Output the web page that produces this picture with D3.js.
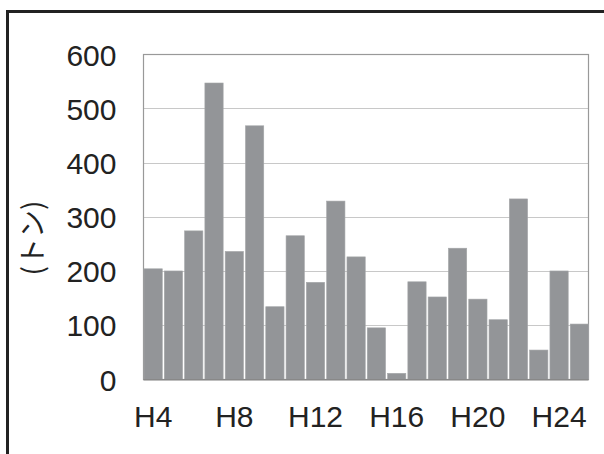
<!DOCTYPE html>
<html>
<head>
<meta charset="utf-8">
<script src="https://cdn.jsdelivr.net/npm/d3@7/dist/d3.min.js"></script>
<style>
  html, body { margin: 0; padding: 0; background: #fff; }
  svg { display: block; }
</style>
</head>
<body>
<script>
const categories = ["H4","H5","H6","H7","H8","H9","H10","H11","H12","H13","H14","H15","H16","H17","H18","H19","H20","H21","H22","H23","H24","H25"];
const values = [204, 200, 274, 547, 236, 468, 134, 265, 179, 329, 226, 95, 11, 180, 152, 242, 148, 110, 333, 54, 200, 102];
const xTickLabels = ["H4","H8","H12","H16","H20","H24"];
const yTicks = [0, 100, 200, 300, 400, 500, 600];
const yAxisTitle = "(トン)";

const W = 604, H = 454;
const svg = d3.select("body").append("svg").attr("width", W).attr("height", H);
const font = "'Liberation Sans', Arial, sans-serif";

// outer frame (only top and left visible)
svg.append("rect")
  .attr("x", 7.5).attr("y", 11.5)
  .attr("width", W + 20).attr("height", H + 20)
  .attr("fill", "none").attr("stroke", "#222").attr("stroke-width", 3);

const pLeft = 144, pRight = 588.5, pTop = 54.3, pBottom = 379.3;

const x = d3.scaleBand().domain(categories).range([pLeft, pRight]).paddingInner(0.1).paddingOuter(0);
const y = d3.scaleLinear().domain([0, 600]).range([pBottom, pTop]);

// gridlines
svg.append("g").selectAll("line").data(yTicks.filter(d => d > 0 && d < 600)).join("line")
  .attr("x1", pLeft).attr("x2", pRight)
  .attr("y1", d => Math.round(y(d)) + 0.5).attr("y2", d => Math.round(y(d)) + 0.5)
  .attr("stroke", "#c8c8c8").attr("stroke-width", 1.2);

// plot frame
svg.append("rect")
  .attr("x", pLeft - 0.5).attr("y", Math.round(pTop) + 0.5)
  .attr("width", pRight - pLeft + 0.5).attr("height", pBottom - pTop)
  .attr("fill", "none").attr("stroke", "#999").attr("stroke-width", 1.2);

// bars
svg.append("g").selectAll("rect").data(values).join("rect")
  .attr("x", (d, i) => x(categories[i]))
  .attr("y", d => y(d))
  .attr("width", x.bandwidth())
  .attr("height", d => y(0) - y(d))
  .attr("fill", "#939598")
  .attr("stroke", "#a4a6a8").attr("stroke-width", 0.6);

// baseline
svg.append("line")
  .attr("x1", pLeft - 0.5).attr("x2", pRight)
  .attr("y1", y(0) + 0.5).attr("y2", y(0) + 0.5)
  .attr("stroke", "#888").attr("stroke-width", 1.5);

// y labels
const yAxis = d3.axisLeft(y).tickValues(yTicks).tickSize(0).tickPadding(0).tickFormat(d3.format("d"));
const gy = svg.append("g").attr("transform", `translate(116.5,0)`).call(yAxis);
gy.select(".domain").remove();
gy.selectAll("text")
  .attr("font-family", font).attr("font-size", 30).attr("fill", "#222")
  .attr("dy", "0.36em").attr("x", 0);

// x labels
const xAxis = d3.axisBottom(x).tickValues(xTickLabels).tickSize(0).tickPadding(0);
const gx = svg.append("g").call(xAxis);
gx.select(".domain").remove();
gx.selectAll("text")
  .attr("font-family", font).attr("font-size", 30).attr("fill", "#222")
  .attr("y", 426.5).attr("dy", 0);

// y title
svg.append("text")
  .attr("transform", "translate(43,238) rotate(-90)")
  .attr("text-anchor", "middle")
  .attr("font-family", "'Noto Sans CJK JP', sans-serif")
  .attr("font-size", 28).attr("fill", "#222")
  .text(yAxisTitle);
</script>
</body>
</html>
